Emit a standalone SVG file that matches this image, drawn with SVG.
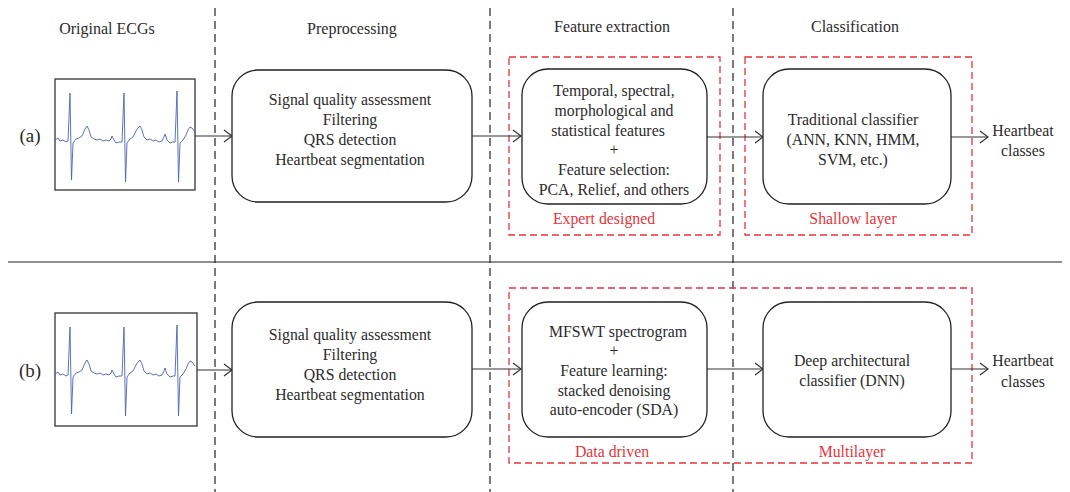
<svg xmlns="http://www.w3.org/2000/svg" width="1070" height="492" viewBox="0 0 1070 492">
<style>
text{font-family:"Liberation Serif","Times New Roman",serif;fill:#2b2b2b;font-size:15.8px;text-anchor:middle}
.hd{font-size:16px}
.red{fill:#e8333a}
.lbl{font-size:19px}
.sep{stroke:#222;stroke-width:1.2;stroke-dasharray:8 5;fill:none}
.rbox{stroke:#e8333a;stroke-width:1.3;stroke-dasharray:7 4;fill:none}
.node{fill:#fff;stroke:#222;stroke-width:1.3}
.ecgbox{fill:#fff;stroke:#333;stroke-width:1.3}
.ecg{fill:none;stroke:#4a63b8;stroke-width:0.9;stroke-linejoin:round}
.conn{stroke:#333;stroke-width:1.2;fill:none;marker-end:url(#arr)}
</style>
<defs>
<marker id="arr" viewBox="0 0 10 14" refX="9" refY="7" markerWidth="10" markerHeight="14" markerUnits="userSpaceOnUse" orient="auto">
<path d="M1,1 L9,7 L1,13" fill="none" stroke="#333" stroke-width="1.2"/>
</marker>
<path id="wave" class="ecg" d="M55,140 L58,138 L60,141 L63,140 L66,142 L68,141 L70,93 L71.5,180 L73,143 L76,139 L79,138 L82,136 L85,129 L87,126 L89,130 L91,137 L94,139 L97,140 L100,139 L103,141 L106,140 L109,141 L111,139 L112,136 L114,140 L116,143 L119,142 L122,142 L124,93 L125.5,182 L127,143 L130,139 L133,137 L136,131 L138,128 L140,126 L142,130 L144,137 L147,140 L150,139 L153,141 L156,140 L159,142 L162,141 L164,137 L165,134 L167,140 L170,143 L173,142 L175,142 L177,91 L178.5,182 L180,143 L183,140 L186,135 L188,130 L190,127 L192,128 L195,132"/>
</defs>
<rect width="1070" height="492" fill="#fff"/>

<g id="separators">
<line class="sep" x1="215" y1="8" x2="215" y2="492"/>
<line class="sep" x1="490" y1="8" x2="490" y2="492"/>
<line class="sep" x1="733" y1="8" x2="733" y2="492"/>
<line x1="8" y1="262" x2="1062" y2="262" stroke="#222" stroke-width="1.2"/>
</g>

<g id="headers">
<text class="hd" x="107" y="34">Original ECGs</text>
<text class="hd" x="352" y="34">Preprocessing</text>
<text class="hd" x="612" y="32">Feature extraction</text>
<text class="hd" x="855" y="32">Classification</text>
<text class="lbl" x="30" y="142">(a)</text>
<text class="lbl" x="30" y="377">(b)</text>
</g>

<g id="groups">
<rect class="rbox" x="509" y="57" width="211" height="178"/>
<text class="red" x="604" y="224">Expert designed</text>
<rect class="rbox" x="745" y="57" width="227" height="178"/>
<text class="red" x="853" y="224">Shallow layer</text>
<rect class="rbox" x="509" y="288" width="463" height="175"/>
<text class="red" x="612" y="457">Data driven</text>
<text class="red" x="852" y="457">Multilayer</text>
</g>

<g id="connectors">
<line class="conn" x1="195" y1="136" x2="232" y2="136"/>
<line class="conn" x1="472" y1="136" x2="521" y2="136"/>
<line class="conn" x1="707" y1="137" x2="763" y2="137"/>
<line class="conn" x1="951" y1="137" x2="988" y2="137"/>
<line class="conn" x1="197" y1="370" x2="232" y2="370"/>
<line class="conn" x1="472" y1="369" x2="521" y2="369"/>
<line class="conn" x1="707" y1="369" x2="763" y2="369"/>
<line class="conn" x1="951" y1="369" x2="988" y2="369"/>
</g>

<g id="ecg-a">
<rect class="ecgbox" x="55" y="79" width="140" height="111"/>
<use href="#wave"/>
</g>

<g id="pre-a">
<rect class="node" x="232" y="70" width="240" height="132" rx="26"/>
<text x="350" y="105">Signal quality assessment</text>
<text x="350" y="125">Filtering</text>
<text x="350" y="145">QRS detection</text>
<text x="350" y="165">Heartbeat segmentation</text>
</g>

<g id="feat-a">
<rect class="node" x="522" y="69" width="185" height="135" rx="26"/>
<text x="614" y="96">Temporal, spectral,</text>
<text x="614" y="116">morphological and</text>
<text x="608" y="136">statistical features</text>
<text x="614" y="155">+</text>
<text x="614" y="175">Feature selection:</text>
<text x="614" y="195">PCA, Relief, and others</text>
</g>

<g id="cls-a">
<rect class="node" x="763" y="69" width="188" height="135" rx="26"/>
<text x="853" y="125">Traditional classifier</text>
<text x="853" y="145">(ANN, KNN, HMM,</text>
<text x="853" y="165">SVM, etc.)</text>
</g>

<g id="out-a">
<text x="1023" y="136">Heartbeat</text>
<text x="1023" y="156">classes</text>
</g>

<g id="ecg-b">
<rect class="ecgbox" x="55" y="313" width="142" height="113"/>
<use href="#wave" transform="translate(0,234)"/>
</g>

<g id="pre-b">
<rect class="node" x="232" y="302" width="240" height="135" rx="26"/>
<text x="350" y="340">Signal quality assessment</text>
<text x="350" y="360">Filtering</text>
<text x="350" y="380">QRS detection</text>
<text x="350" y="400">Heartbeat segmentation</text>
</g>

<g id="feat-b">
<rect class="node" x="522" y="302" width="185" height="135" rx="26"/>
<text x="618" y="337">MFSWT spectrogram</text>
<text x="614" y="356">+</text>
<text x="614" y="376">Feature learning:</text>
<text x="614" y="396">stacked denoising</text>
<text x="614" y="415">auto-encoder (SDA)</text>
</g>

<g id="cls-b">
<rect class="node" x="763" y="302" width="188" height="135" rx="26"/>
<text x="852" y="366">Deep architectural</text>
<text x="852" y="386">classifier (DNN)</text>
</g>

<g id="out-b">
<text x="1023" y="366">Heartbeat</text>
<text x="1023" y="387">classes</text>
</g>
</svg>
